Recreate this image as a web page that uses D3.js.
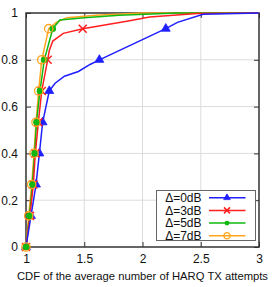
<!DOCTYPE html>
<html>
<head>
<meta charset="utf-8">
<script src="https://cdn.jsdelivr.net/npm/d3@7"></script>
<style>
  body { margin: 0; background: #fff; }
  svg text { font-family: "Liberation Sans", Arial, sans-serif; }
</style>
</head>
<body>
<div id="chart"></div>
<script>
// Data
const seriesNames = ["\u0394=0dB", "\u0394=3dB", "\u0394=5dB", "\u0394=7dB"];
const seriesColors = ["#1f1fff", "#ff1f1f", "#10b810", "#ffa51f"];
const seriesMarkers = ["triangle", "cross", "dot", "ring"];

// marker points (y every 2/15)
const markerY = [0, 0.133, 0.267, 0.4, 0.533, 0.667, 0.8, 0.933];
const markerX0 = [1.0, 1.043, 1.086, 1.115, 1.143, 1.2, 1.63, 2.2];
const markerX3 = [1.0, 1.034, 1.063, 1.08, 1.106, 1.135, 1.186, 1.487];
const markerX5 = [1.0, 1.03, 1.055, 1.074, 1.09, 1.12, 1.157, 1.23];
const markerX7 = [1.0, 1.023, 1.049, 1.069, 1.086, 1.109, 1.135, 1.195];

// upper tails of the curves, after the last marker
const tailX0 = [1.25, 1.33, 1.45, 1.55, 1.63, 2.2, 2.3, 2.52, 3.0];
const tailY0 = [0.70, 0.73, 0.75, 0.78, 0.80, 0.933, 0.96, 0.995, 1.0];
const tailX3 = [1.2, 1.23, 1.32, 1.487, 1.89, 2.06, 2.47, 3.0];
const tailY3 = [0.84, 0.88, 0.913, 0.933, 0.967, 0.983, 0.998, 1.0];
const tailX5 = [1.29, 1.5, 1.8, 2.3, 3.0];
const tailY5 = [0.97, 0.98, 0.99, 1.0, 1.0];
const tailX7 = [1.26, 1.35, 1.6, 2.0, 3.0];
const tailY7 = [0.96, 0.98, 0.99, 1.0, 1.0];

const xTicks = [1, 1.5, 2, 2.5, 3];
const yTicks = [0, 0.2, 0.4, 0.6, 0.8, 1];

const markerXs = [markerX0, markerX3, markerX5, markerX7];
const tailXs = [tailX0, tailX3, tailX5, tailX7];
const tailYs = [tailY0, tailY3, tailY5, tailY7];

let width = 276, height = 287;
let margin = { top: 13, bottom: 40, left: 26, right: 17 };

let svg = d3.select("#chart")
    .append("svg")
    .attr("width", width)
    .attr("height", height);

let xScale = d3.scaleLinear()
    .domain([1, 3])
    .range([margin.left, width - margin.right]);

let yScale = d3.scaleLinear()
    .domain([0, 1])
    .range([height - margin.bottom, margin.top]);

// grid
svg.append("g")
    .selectAll("line.gx")
    .data(xTicks.slice(1, -1))
    .enter().append("line")
    .attr("x1", d => xScale(d)).attr("x2", d => xScale(d))
    .attr("y1", yScale(0)).attr("y2", yScale(1))
    .attr("stroke", "#dcdcdc").attr("stroke-width", 1);

svg.append("g")
    .selectAll("line.gy")
    .data(yTicks.slice(1, -1))
    .enter().append("line")
    .attr("x1", xScale(1)).attr("x2", xScale(3))
    .attr("y1", d => yScale(d)).attr("y2", d => yScale(d))
    .attr("stroke", "#dcdcdc").attr("stroke-width", 1);

// axes with inward ticks
const axisColor = "#333";
function styleAxis(g) {
    g.select(".domain").remove();
    g.selectAll(".tick line").attr("stroke", axisColor).attr("stroke-width", 1);
    g.selectAll(".tick text").attr("fill", "#111").style("font-size", "12px");
}

svg.append("g")
    .attr("transform", `translate(0,${yScale(0)})`)
    .call(d3.axisBottom(xScale).tickValues(xTicks).tickFormat(d3.format("")).tickSizeInner(-5).tickPadding(7))
    .call(styleAxis);

svg.append("g")
    .attr("transform", `translate(0,${yScale(1)})`)
    .call(d3.axisTop(xScale).tickValues(xTicks).tickFormat("").tickSizeInner(-5))
    .call(styleAxis);

svg.append("g")
    .attr("transform", `translate(${xScale(1)},0)`)
    .call(d3.axisLeft(yScale).tickValues(yTicks).tickFormat(d3.format("")).tickSizeInner(-5).tickPadding(8))
    .call(styleAxis);

svg.append("g")
    .attr("transform", `translate(${xScale(3)},0)`)
    .call(d3.axisRight(yScale).tickValues(yTicks).tickFormat("").tickSizeInner(-5))
    .call(styleAxis);

// frame
svg.append("rect")
    .attr("x", xScale(1)).attr("y", yScale(1))
    .attr("width", xScale(3) - xScale(1))
    .attr("height", yScale(0) - yScale(1))
    .attr("fill", "none")
    .attr("stroke", axisColor)
    .attr("stroke-width", 1.5);

// marker drawing (s scales the size)
function drawMarker(g, type, color, s) {
    if (type === "triangle") {
        g.append("path").attr("d", d3.symbol(d3.symbolTriangle, 34 * s * s)())
            .attr("fill", color).attr("stroke", color).attr("stroke-width", 0.8);
    } else if (type === "cross") {
        let r = 4 * s;
        g.append("path").attr("d", `M${-r},${-r}L${r},${r}M${-r},${r}L${r},${-r}`)
            .attr("stroke", color).attr("stroke-width", 1.5).attr("fill", "none");
    } else if (type === "dot") {
        g.append("circle").attr("r", 3.3 * s).attr("fill", color);
    } else {
        g.append("circle").attr("r", 4.2 * s).attr("fill", "none")
            .attr("stroke", color).attr("stroke-width", 1.3);
    }
}

let line = d3.line().x(d => xScale(d[0])).y(d => yScale(d[1]));

// draw from back to front: 7dB, 5dB, 3dB, 0dB lines; markers on top
const order = [3, 2, 1, 0];
order.forEach(i => {
    const pts = markerXs[i].map((x, k) => [x, markerY[k]])
        .concat(tailXs[i].map((x, k) => [x, tailYs[i][k]]));
    pts.sort((a, b) => a[1] - b[1] || a[0] - b[0]);
    svg.append("path")
        .datum(pts)
        .attr("d", line)
        .attr("fill", "none")
        .attr("stroke", seriesColors[i])
        .attr("stroke-width", 1.5);
});

[0, 1, 2, 3].forEach(i => {
    markerXs[i].forEach((x, k) => {
        let g = svg.append("g")
            .attr("transform", `translate(${xScale(x)},${yScale(markerY[k])})`);
        drawMarker(g, seriesMarkers[i], seriesColors[i], 1);
    });
});

// x-axis label
svg.append("text")
    .attr("x", 17)
    .attr("y", 280)
    .attr("textLength", 251)
    .attr("lengthAdjust", "spacingAndGlyphs")
    .style("font-size", "11.5px")
    .attr("fill", "#111")
    .text("CDF of the average number of HARQ TX attempts");

// legend
let legend = svg.append("g");
legend.append("rect")
    .attr("x", 156.5).attr("y", 190.5)
    .attr("width", 99).attr("height", 50)
    .attr("fill", "#fff")
    .attr("stroke", "#666")
    .attr("stroke-width", 1);

seriesNames.forEach((name, i) => {
    let yy = 197.7 + i * 12.7;
    legend.append("text")
        .attr("x", 201.5).attr("y", yy)
        .attr("dy", "0.36em")
        .attr("text-anchor", "end")
        .style("font-size", "12px")
        .attr("fill", "#111")
        .text(name);
    legend.append("line")
        .attr("x1", 209).attr("x2", 245.5)
        .attr("y1", yy).attr("y2", yy)
        .attr("stroke", seriesColors[i])
        .attr("stroke-width", 1.5);
    let g = legend.append("g").attr("transform", `translate(227,${yy})`);
    drawMarker(g, seriesMarkers[i], seriesColors[i], 0.75);
});
</script>
</body>
</html>
